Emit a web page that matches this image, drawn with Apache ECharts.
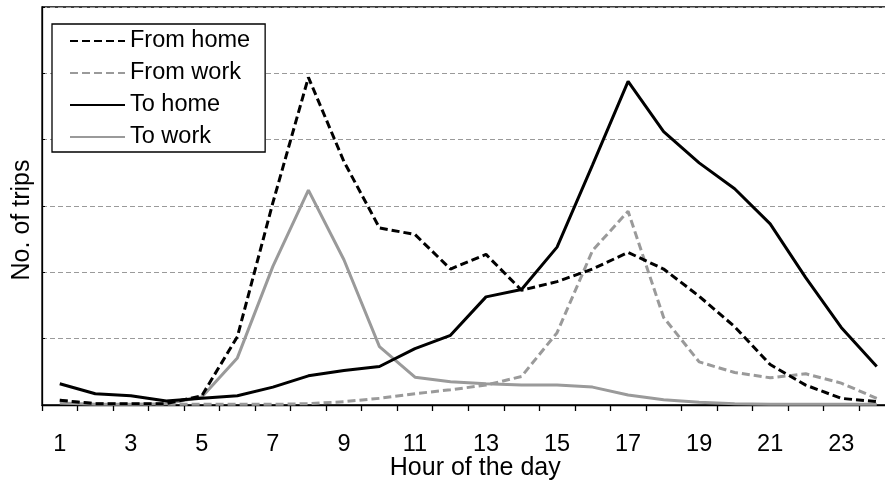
<!DOCTYPE html>
<html>
<head>
<meta charset="utf-8">
<script src="https://cdn.jsdelivr.net/npm/echarts@6/dist/echarts.min.js"></script>
<style>
html,body{margin:0;padding:0;background:#fff;}
#chart{width:885px;height:485px;}
</style>
</head>
<body>
<div id="chart"></div>
<script>
const hours = ['1','2','3','4','5','6','7','8','9','10','11','12','13','14','15','16','17','18','19','20','21','22','23','24'];
const fromHome = [0.07,0.02,0.02,0.02,0.14,1.03,3.05,4.94,3.67,2.67,2.57,2.05,2.27,1.73,1.86,2.05,2.30,2.05,1.64,1.18,0.61,0.30,0.10,0.05];
const fromWork = [0.07,0.02,0.01,0.01,0.01,0.01,0.01,0.02,0.05,0.10,0.17,0.23,0.30,0.43,1.09,2.33,2.92,1.32,0.65,0.49,0.41,0.47,0.33,0.10];
const toHome = [0.32,0.17,0.14,0.06,0.10,0.14,0.27,0.44,0.52,0.58,0.85,1.05,1.63,1.74,2.38,3.62,4.88,4.12,3.65,3.26,2.73,1.92,1.17,0.58];
const toWork = [0.03,0.01,0.01,0.02,0.12,0.71,2.09,3.24,2.19,0.88,0.42,0.35,0.32,0.30,0.30,0.27,0.15,0.08,0.04,0.02,0.01,0.01,0.01,0.01];

const FONT = '"Liberation Sans", Arial, sans-serif';
const GRAY = '#9a9a9a';
const chart = echarts.init(document.getElementById('chart'), null, {renderer: 'canvas'});

function line(name, data, color, dashed) {
  return {
    name: name, type: 'line', data: data, symbol: 'none', showSymbol: false, smooth: false,
    animation: false,
    lineStyle: {color: color, width: 3, type: dashed ? [8, 4] : 'solid'},
    itemStyle: {color: color}
  };
}

chart.setOption({
  animation: false,
  backgroundColor: '#fff',
  grid: {left: 42, top: 7, width: 852.5, bottom: 80, show: true, borderColor: '#000', borderWidth: 1.3,
         containLabel: false, outerBoundsMode: 'none'},
  legend: {
    orient: 'vertical', left: 52, top: 24,
    padding: [5, 15, 3, 17],
    itemGap: 8,
    itemWidth: 55, itemHeight: 12,
    borderColor: '#000', borderWidth: 1.3,
    backgroundColor: '#fff',
    itemStyle: {opacity: 0},
    textStyle: {fontFamily: FONT, fontSize: 23.5, color: '#000', lineHeight: 23},
    data: ['From home', 'From work', 'To home', 'To work']
  },
  graphic: [{
    type: 'text', x: 22, y: 220, rotation: Math.PI / 2,
    style: {text: 'No. of trips', font: '25px ' + FONT, fill: '#000', textAlign: 'center', textVerticalAlign: 'middle'}
  }],
  xAxis: {
    type: 'category', data: hours, boundaryGap: true,
    name: 'Hour of the day', nameLocation: 'middle', nameGap: 51, nameMoveOverlap: false,
    nameTextStyle: {fontFamily: FONT, fontSize: 25, color: '#000', padding: [0, 0, 0, 14]},
    axisLine: {lineStyle: {color: '#000', width: 1.3}},
    axisTick: {show: true, interval: 0, length: 6, lineStyle: {color: '#000', width: 1.3}},
    axisLabel: {interval: 1, margin: 28, fontFamily: FONT, fontSize: 23.5, color: '#000'},
    splitLine: {show: false}
  },
  yAxis: {
    type: 'value', min: 0, max: 6, interval: 1,
    axisLine: {show: true, lineStyle: {color: '#000', width: 1.3}},
    axisTick: {show: true, inside: true, length: 3, lineStyle: {color: '#000'}},
    axisLabel: {show: false},
    splitLine: {show: true, lineStyle: {color: GRAY, width: 1, type: [5, 3]}}
  },
  series: [
    line('To work', toWork, GRAY, false),
    line('From work', fromWork, GRAY, true),
    line('To home', toHome, '#000', false),
    line('From home', fromHome, '#000', true)
  ]
});
</script>
</body>
</html>
